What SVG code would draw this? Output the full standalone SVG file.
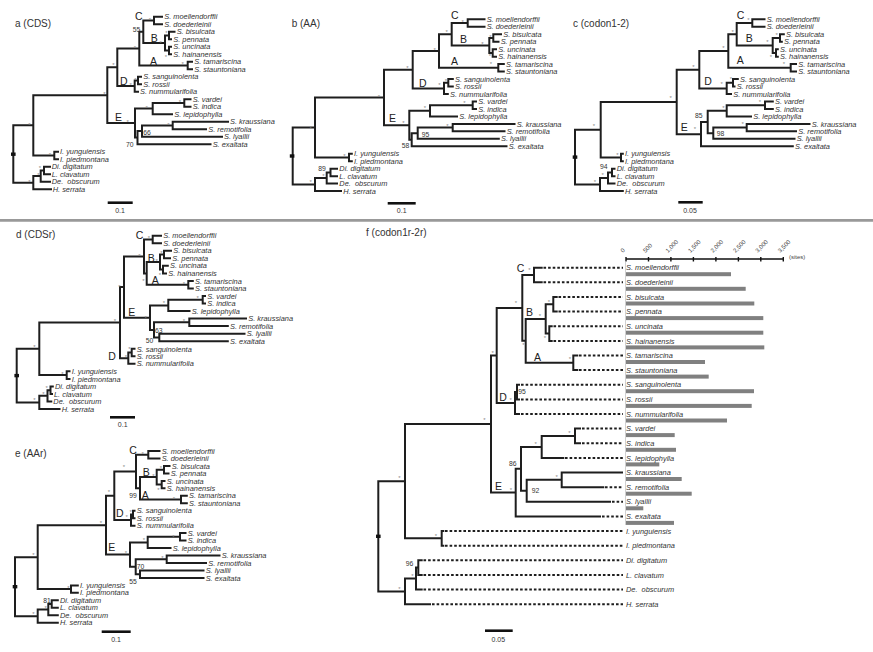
<svg xmlns="http://www.w3.org/2000/svg" width="873" height="652" viewBox="0 0 873 652">
<style>
.br{fill:none;stroke:#1e1e1e;stroke-width:2;stroke-linecap:square}
.dt{fill:none;stroke:#1e1e1e;stroke-width:2;stroke-dasharray:2.6 2}
.sb{fill:none;stroke:#111;stroke-width:2.6}
.t{font-family:"Liberation Sans",Arial,sans-serif;font-style:italic;font-size:7.4px;fill:#333}
.ti{font-family:"Liberation Sans",Arial,sans-serif;font-size:10px;fill:#333}
.cl{font-family:"Liberation Sans",Arial,sans-serif;font-size:10.5px;fill:#222}
.s{font-family:"Liberation Sans",Arial,sans-serif;font-size:6px;fill:#888;text-anchor:middle}
.n{font-family:"Liberation Sans",Arial,sans-serif;font-size:6.8px;fill:#333}
.sc{font-family:"Liberation Sans",Arial,sans-serif;font-size:7px;fill:#333;text-anchor:middle}
.ax{font-family:"Liberation Sans",Arial,sans-serif;font-size:6px;fill:#444}
.bar{fill:#808080}
</style>
<rect width="873" height="652" fill="#fff"/>
<line x1="0" y1="220.3" x2="873" y2="220.3" stroke="#999" stroke-width="2.8"/>

<!-- Panel a -->
<g id="panel-a">
<text class="ti" x="15" y="27">a (CDS)</text>
<g id="a-connectors">
<path class="br" d="M13.3 125.3V182.65M13.3 125.3H33.3M33.3 95.2V155.45M33.3 95.2H107.3M107.3 67.3V123.1M107.3 67.3H117.3M117.3 48.6V86.1M117.3 48.6H139.3M139.3 31.7V65.45M139.3 31.7H143.3M143.3 20.45V42.95M143.3 20.45H154M154 16.7V24.2M154 16.7H162M154 24.2H162M143.3 42.95H165M165 35.45V50.45M165 35.45H169M169 31.7V39.2M169 31.7H174.5M169 39.2H171M165 50.45H169M169 46.7V54.2M169 46.7H171M169 54.2H171M139.3 65.45H187.7M187.7 61.7V69.2M187.7 61.7H192M187.7 69.2H192M117.3 86.1H134.7M134.7 80.45V91.7M134.7 91.7H138M134.7 80.45H138M138 76.7V84.2M138 76.7H141M138 84.2H141M107.3 123.1H135M135 108.6V137.6M135 108.6H152.7M152.7 102.95V114.2M152.7 114.2H172M152.7 102.95H184.3M184.3 99.2V106.7M184.3 99.2H190.5M184.3 106.7H190.5M135 137.6H137.5M137.5 131.1V144.2M137.5 144.2H210.5M137.5 131.1H142M142 125.45V136.7M142 136.7H222M142 125.45H172.7M172.7 121.7V129.2M172.7 121.7H228M172.7 129.2H206M33.3 155.45H54.3M54.3 151.7V159.2M54.3 151.7H58M54.3 159.2H58M13.3 182.65H33.3M33.3 176.1V189.2M33.3 189.2H51M33.3 176.1H40.7M40.7 170.45V181.7M40.7 181.7H50M40.7 170.45H44M44 166.7V174.2M44 166.7H50M44 174.2H50"/>
<rect x="11" y="152.5" width="4.6" height="3.4" fill="#111"/>
<path class="sb" d="M107.7 202.7H132.7"/>
</g>
<text class="sc" x="120" y="212.5">0.1</text>
<g id="a-clades"><text class="cl" x="135" y="20">C</text><text class="cl" x="150.7" y="41.7">B</text><text class="cl" x="150" y="65">A</text><text class="cl" x="120" y="85">D</text><text class="cl" x="115" y="120.7">E</text></g>
<g id="a-support"><text class="n" x="132.7" y="31.8">55</text><text class="n" x="126" y="147.3">70</text><text class="n" x="143.3" y="135.3">66</text>
<text class="s" x="29.3" y="126.5">*</text><text class="s" x="104.3" y="95.5">*</text><text class="s" x="113.3" y="66.5">*</text><text class="s" x="135" y="49.5">*</text><text class="s" x="150" y="21.8">*</text><text class="s" x="160.7" y="44.5">*</text><text class="s" x="166.5" y="34.5">*</text><text class="s" x="166" y="58.5">*</text><text class="s" x="182.7" y="66.2">*</text><text class="s" x="130.7" y="86.8">*</text><text class="s" x="135.5" y="81.8">*</text><text class="s" x="127.7" y="124.2">*</text><text class="s" x="146.7" y="109.5">*</text><text class="s" x="180" y="104.2">*</text><text class="s" x="168.3" y="126.8">*</text><text class="s" x="50" y="156.8">*</text><text class="s" x="29.3" y="183.5">*</text><text class="s" x="38.3" y="176.8">*</text><text class="s" x="40" y="170.2">*</text></g>
<g id="a1"><text class="t" x="164.3" y="19.3">S. moellendorffii</text></g>
<g id="a2"><text class="t" x="164.3" y="26.8">S. doederleinii</text></g>
<g id="a3"><text class="t" x="176.7" y="34.3">S. bisulcata</text></g>
<g id="a4"><text class="t" x="173.3" y="41.8">S. pennata</text></g>
<g id="a5"><text class="t" x="173.3" y="49.3">S. uncinata</text></g>
<g id="a6"><text class="t" x="173.3" y="56.8">S. hainanensis</text></g>
<g id="a7"><text class="t" x="194.3" y="64.3">S. tamariscina</text></g>
<g id="a8"><text class="t" x="194.3" y="71.8">S. stauntoniana</text></g>
<g id="a9"><text class="t" x="143.3" y="79.3">S. sanguinolenta</text></g>
<g id="a10"><text class="t" x="143.3" y="86.8">S. rossii</text></g>
<g id="a11"><text class="t" x="140" y="94.3">S. nummularifolia</text></g>
<g id="a12"><text class="t" x="192.7" y="101.8">S. vardei</text></g>
<g id="a13"><text class="t" x="192.7" y="109.3">S. indica</text></g>
<g id="a14"><text class="t" x="174.3" y="116.8">S. lepidophylla</text></g>
<g id="a15"><text class="t" x="230" y="124.3">S. kraussiana</text></g>
<g id="a16"><text class="t" x="208.3" y="131.8">S. remotifolia</text></g>
<g id="a17"><text class="t" x="224" y="139.3">S. lyallii</text></g>
<g id="a18"><text class="t" x="212.7" y="146.8">S. exaltata</text></g>
<g id="a19"><text class="t" x="60" y="154.3">I. yunguiensis</text></g>
<g id="a20"><text class="t" x="60" y="161.8">I. piedmontana</text></g>
<g id="a21"><text class="t" x="51.7" y="169.3">Di. digitatum</text></g>
<g id="a22"><text class="t" x="51.7" y="176.8">L. clavatum</text></g>
<g id="a23"><text class="t" x="51.7" y="184.3">De.&#160; obscurum</text></g>
<g id="a24"><text class="t" x="52.7" y="191.8">H. serrata</text></g>
</g>

<!-- Panel b -->
<g id="panel-b">
<text class="ti" x="291.7" y="27">b (AA)</text>
<g id="b-connectors">
<path class="br" d="M292.7 127.5V184.6M292.7 127.5H315M315 97.5V157.5M315 97.5H384M384 69.7V125.3M384 69.7H412.7M412.7 51.05V88.4M412.7 51.05H439M439 34.25V67.85M439 34.25H451.7M451.7 23.05V45.45M451.7 23.05H467.7M467.7 19.3V26.8M467.7 19.3H484.5M467.7 26.8H484.5M451.7 45.45H489.3M489.3 37.95V52.95M489.3 37.95H493.3M493.3 34.2V41.7M493.3 34.2H501M493.3 41.7H498.5M489.3 52.95H492.7M492.7 49.2V56.7M492.7 49.2H496M492.7 56.7H496M439 67.85H498.3M498.3 64.1V71.6M498.3 64.1H503.8M498.3 71.6H503.8M412.7 88.4H444M444 82.8V94M444 94H447.8M444 82.8H448.3M448.3 79.1V86.5M448.3 79.1H452.8M448.3 86.5H452.8M384 125.3H409.3M409.3 110.8V139.75M409.3 110.8H430M430 105.2V116.4M430 116.4H457M430 105.2H472.7M472.7 101.5V108.9M472.7 101.5H476M472.7 108.9H476M409.3 139.75H411.7M411.7 133.2V146.3M411.7 146.3H506.5M411.7 133.2H417.7M417.7 127.6V138.8M417.7 138.8H498.8M417.7 127.6H452.7M452.7 123.9V131.35M452.7 123.9H514.5M452.7 131.35H504.5M315 157.5H349M349 153.8V161.2M349 153.8H351.8M349 161.2H351.8M292.7 184.6H315M315 178.05V191.1M315 191.1H341M315 178.05H326.7M326.7 172.45V183.6M326.7 183.6H337M326.7 172.45H330.5M330.5 168.7V176.2M330.5 168.7H337M330.5 176.2H337"/>
<rect x="289.8" y="154.3" width="4.6" height="3.4" fill="#111"/>
<path class="sb" d="M387.7 203.3H415.7"/>
</g>
<text class="sc" x="401.7" y="212.5">0.1</text>
<g id="b-clades"><text class="cl" x="451" y="19.3">C</text><text class="cl" x="460" y="42.7">B</text><text class="cl" x="451" y="65">A</text><text class="cl" x="419" y="87.3">D</text><text class="cl" x="389" y="121.7">E</text></g>
<g id="b-support"><text class="n" x="421.7" y="136.5">95</text><text class="n" x="401.7" y="147.7">58</text><text class="n" x="318.3" y="170.7">89</text>
<text class="s" x="310.7" y="129.5">*</text><text class="s" x="379" y="98.5">*</text><text class="s" x="407.3" y="70.2">*</text><text class="s" x="434.7" y="51.8">*</text><text class="s" x="446.7" y="34.2">*</text><text class="s" x="462.7" y="24.2">*</text><text class="s" x="482.3" y="46.2">*</text><text class="s" x="490.5" y="38.5">*</text><text class="s" x="490" y="58">*</text><text class="s" x="491" y="66.2">*</text><text class="s" x="439.3" y="86.8">*</text><text class="s" x="446" y="83">*</text><text class="s" x="403.3" y="125.2">*</text><text class="s" x="425" y="110.2">*</text><text class="s" x="464.3" y="104.5">*</text><text class="s" x="447.3" y="127.5">*</text><text class="s" x="344.3" y="157.5">*</text><text class="s" x="310.7" y="183.5">*</text><text class="s" x="323.3" y="177.5">*</text></g>
<g id="b1"><text class="t" x="486.7" y="21.9">S. moellendorffii</text></g>
<g id="b2"><text class="t" x="486.7" y="29.4">S. doederleinii</text></g>
<g id="b3"><text class="t" x="503.3" y="36.8">S. bisulcata</text></g>
<g id="b4"><text class="t" x="500.7" y="44.3">S. pennata</text></g>
<g id="b5"><text class="t" x="498.3" y="51.8">S. uncinata</text></g>
<g id="b6"><text class="t" x="498.3" y="59.3">S. hainanensis</text></g>
<g id="b7"><text class="t" x="506" y="66.7">S. tamariscina</text></g>
<g id="b8"><text class="t" x="506" y="74.2">S. stauntoniana</text></g>
<g id="b9"><text class="t" x="455" y="81.7">S. sanguinolenta</text></g>
<g id="b10"><text class="t" x="455" y="89.1">S. rossii</text></g>
<g id="b11"><text class="t" x="450" y="96.6">S. nummularifolia</text></g>
<g id="b12"><text class="t" x="478.3" y="104.1">S. vardei</text></g>
<g id="b13"><text class="t" x="478.3" y="111.5">S. indica</text></g>
<g id="b14"><text class="t" x="459.3" y="119">S. lepidophylla</text></g>
<g id="b15"><text class="t" x="516.7" y="126.5">S. kraussiana</text></g>
<g id="b16"><text class="t" x="506.7" y="134">S. remotifolia</text></g>
<g id="b17"><text class="t" x="501" y="141.4">S. lyallii</text></g>
<g id="b18"><text class="t" x="508.7" y="148.9">S. exaltata</text></g>
<g id="b19"><text class="t" x="354" y="156.4">I. yunguiensis</text></g>
<g id="b20"><text class="t" x="354" y="163.8">I. piedmontana</text></g>
<g id="b21"><text class="t" x="339.3" y="171.3">Di. digitatum</text></g>
<g id="b22"><text class="t" x="339.3" y="178.8">L. clavatum</text></g>
<g id="b23"><text class="t" x="339.3" y="186.2">De.&#160; obscurum</text></g>
<g id="b24"><text class="t" x="343.3" y="193.7">H. serrata</text></g>
</g>

<!-- Panel c -->
<g id="panel-c">
<text class="ti" x="573" y="27">c (codon1-2)</text>
<g id="c-connectors">
<path class="br" d="M575 129.7V184.6M575 129.7H600.7M600.7 101.9V157.5M600.7 101.9H676.7M676.7 69.7V134.15M676.7 69.7H699.3M699.3 51.05V88.4M699.3 51.05H728.3M728.3 34.25V67.85M728.3 34.25H736.7M736.7 23.05V45.45M736.7 23.05H752.3M752.3 19.3V26.8M752.3 19.3H764.5M752.3 26.8H764.5M736.7 45.45H772.7M772.7 37.95V52.95M772.7 37.95H780M780 34.2V41.7M780 34.2H783.8M780 41.7H781.8M772.7 52.95H776M776 49.2V56.7M776 49.2H777.8M776 56.7H777.8M728.3 67.85H790.7M790.7 64.1V71.6M790.7 64.1H796M790.7 71.6H796M699.3 88.4H726.7M726.7 82.8V94M726.7 94H731M726.7 82.8H733M733 79.1V86.5M733 79.1H737.8M733 86.5H734.5M676.7 134.15H701M701 122V146.3M701 146.3H792.8M701 122H707.7M707.7 110.8V133.2M707.7 110.8H726.7M726.7 105.2V116.4M726.7 116.4H751M726.7 105.2H765M765 101.5V108.9M765 101.5H772.8M765 108.9H772.8M707.7 133.2H713.3M713.3 127.6V138.8M713.3 138.8H794.5M713.3 127.6H746.7M746.7 123.9V131.35M746.7 123.9H809.5M746.7 131.35H796M600.7 157.5H621M621 153.8V161.2M621 153.8H622.8M621 161.2H622.8M575 184.6H600M600 178.05V191.1M600 191.1H622.8M600 178.05H608M608 172.45V183.6M608 183.6H614.5M608 172.45H612M612 168.7V176.2M612 168.7H614.5M612 176.2H614.5"/>
<rect x="572.7" y="155.4" width="4.6" height="3.4" fill="#111"/>
<path class="sb" d="M678.3 202.3H702.7"/>
</g>
<text class="sc" x="690" y="212.5">0.05</text>
<g id="c-clades"><text class="cl" x="736.7" y="19.3">C</text><text class="cl" x="745.7" y="42">B</text><text class="cl" x="736.7" y="64.3">A</text><text class="cl" x="704.3" y="85">D</text><text class="cl" x="680.7" y="131">E</text></g>
<g id="c-support"><text class="n" x="695" y="118.3">85</text><text class="n" x="716.7" y="136">98</text><text class="n" x="600" y="169.3">94</text>
<text class="s" x="594" y="127.5">*</text><text class="s" x="670.7" y="100.2">*</text><text class="s" x="693.3" y="68.8">*</text><text class="s" x="723.3" y="50.2">*</text><text class="s" x="732.7" y="34.2">*</text><text class="s" x="748.3" y="21.8">*</text><text class="s" x="767.3" y="44.2">*</text><text class="s" x="776.7" y="36.8">*</text><text class="s" x="771" y="58.5">*</text><text class="s" x="784" y="65.5">*</text><text class="s" x="721.7" y="86.2">*</text><text class="s" x="731" y="81.2">*</text><text class="s" x="695" y="131.2">*</text><text class="s" x="723.3" y="109.5">*</text><text class="s" x="760" y="103.5">*</text><text class="s" x="742.7" y="126.2">*</text><text class="s" x="617.3" y="156.8">*</text><text class="s" x="595" y="183.5">*</text><text class="s" x="602.7" y="176.8">*</text></g>
<g id="c1"><text class="t" x="766.7" y="21.9">S. moellendorffii</text></g>
<g id="c2"><text class="t" x="766.7" y="29.4">S. doederleinii</text></g>
<g id="c3"><text class="t" x="786" y="36.8">S. bisulcata</text></g>
<g id="c4"><text class="t" x="784" y="44.3">S. pennata</text></g>
<g id="c5"><text class="t" x="780" y="51.8">S. uncinata</text></g>
<g id="c6"><text class="t" x="780" y="59.3">S. hainanensis</text></g>
<g id="c7"><text class="t" x="798.3" y="66.7">S. tamariscina</text></g>
<g id="c8"><text class="t" x="798.3" y="74.2">S. stauntoniana</text></g>
<g id="c9"><text class="t" x="740" y="81.7">S. sanguinolenta</text></g>
<g id="c10"><text class="t" x="736.7" y="89.1">S. rossii</text></g>
<g id="c11"><text class="t" x="733.3" y="96.6">S. nummularifolia</text></g>
<g id="c12"><text class="t" x="775" y="104.1">S. vardei</text></g>
<g id="c13"><text class="t" x="775" y="111.5">S. indica</text></g>
<g id="c14"><text class="t" x="753.3" y="119">S. lepidophylla</text></g>
<g id="c15"><text class="t" x="811.7" y="126.5">S. kraussiana</text></g>
<g id="c16"><text class="t" x="798.3" y="134">S. remotifolia</text></g>
<g id="c17"><text class="t" x="796.7" y="141.4">S. lyallii</text></g>
<g id="c18"><text class="t" x="795" y="148.9">S. exaltata</text></g>
<g id="c19"><text class="t" x="625" y="156.4">I. yunguiensis</text></g>
<g id="c20"><text class="t" x="625" y="163.8">I. piedmontana</text></g>
<g id="c21"><text class="t" x="616.7" y="171.3">Di. digitatum</text></g>
<g id="c22"><text class="t" x="616.7" y="178.8">L. clavatum</text></g>
<g id="c23"><text class="t" x="616.7" y="186.2">De.&#160; obscurum</text></g>
<g id="c24"><text class="t" x="625" y="193.7">H. serrata</text></g>
</g>

<!-- Panel d -->
<g id="panel-d">
<text class="ti" x="16" y="237.5">d (CDSr)</text>
<g id="d-connectors">
<path class="br" d="M16.7 348.85V402.4M16.7 348.85H39.3M39.3 322.6V375.1M39.3 322.6H120M120 287V358.15M120 287H124M124 256.4V317.65M124 256.4H144M144 239.45V273.4M144 239.45H152.7M152.7 235.7V243.2M152.7 235.7H161M152.7 243.2H161M144 273.4H146.7M146.7 262.1V284.65M146.7 262.1H160M160 254.55V269.6M160 254.55H164M164 250.8V258.3M164 250.8H171M164 258.3H170M160 269.6H163M163 265.8V273.4M163 265.8H167.8M163 273.4H166M146.7 284.65H188.3M188.3 280.9V288.4M188.3 280.9H192.8M188.3 288.4H192.8M124 317.65H150M150 305.4V329.9M150 305.4H168.3M168.3 299.75V311.1M168.3 311.1H189.5M168.3 299.75H202.7M202.7 296V303.5M202.7 296H205M202.7 303.5H205M150 329.9H154M154 322.35V337.45M154 322.35H189.3M189.3 318.6V326.1M189.3 318.6H246M189.3 326.1H227.8M154 337.45H159.3M159.3 333.7V341.2M159.3 333.7H244.5M159.3 341.2H227.8M120 358.15H128.3M128.3 352.5V363.8M128.3 363.8H134.5M128.3 352.5H131.7M131.7 348.7V356.3M131.7 348.7H134.5M131.7 356.3H134.5M39.3 375.1H66.7M66.7 371.3V378.9M66.7 371.3H69.5M66.7 378.9H69.5M16.7 402.4H39.3M39.3 395.8V409M39.3 409H59.5M39.3 395.8H47.5M47.5 390.15V401.5M47.5 401.5H51.3M47.5 390.15H50.5M50.5 386.4V393.9M50.5 386.4H52.8M50.5 393.9H52"/>
<rect x="14.4" y="373.9" width="4.6" height="3.4" fill="#111"/>
<path class="sb" d="M110 417.3H135"/>
</g>
<text class="sc" x="122.7" y="426.5">0.1</text>
<g id="d-clades"><text class="cl" x="135.7" y="239">C</text><text class="cl" x="147.8" y="262">B</text><text class="cl" x="151.7" y="284.3">A</text><text class="cl" x="128.3" y="316">E</text><text class="cl" x="108.3" y="360">D</text></g>
<g id="d-support"><text class="n" x="155" y="332.7">63</text><text class="n" x="145.8" y="343.2" font-size="6.4">50</text>
<text class="s" x="34.3" y="348.5">*</text><text class="s" x="115" y="322.5">*</text><text class="s" x="119.3" y="289.2">*</text><text class="s" x="139.3" y="257.5">*</text><text class="s" x="149" y="240.2">*</text><text class="s" x="156.7" y="262.8">*</text><text class="s" x="161.5" y="254.5">*</text><text class="s" x="160" y="276.8">*</text><text class="s" x="143.3" y="282.8">*</text><text class="s" x="184" y="285.8">*</text><text class="s" x="145.7" y="319.5">*</text><text class="s" x="164" y="305.2">*</text><text class="s" x="197.7" y="300.2">*</text><text class="s" x="184" y="322.8">*</text><text class="s" x="126" y="358.5">*</text><text class="s" x="129.3" y="351.2">*</text><text class="s" x="62.3" y="375.8">*</text><text class="s" x="34.3" y="401.8">*</text><text class="s" x="43.3" y="395.8">*</text><text class="s" x="46.7" y="389.5">*</text></g>
<g id="d1"><text class="t" x="163.3" y="238.3">S. moellendorffii</text></g>
<g id="d2"><text class="t" x="163.3" y="245.8">S. doederleinii</text></g>
<g id="d3"><text class="t" x="173.3" y="253.4">S. bisulcata</text></g>
<g id="d4"><text class="t" x="172.3" y="260.9">S. pennata</text></g>
<g id="d5"><text class="t" x="170" y="268.4">S. uncinata</text></g>
<g id="d6"><text class="t" x="168.3" y="276">S. hainanensis</text></g>
<g id="d7"><text class="t" x="195" y="283.5">S. tamariscina</text></g>
<g id="d8"><text class="t" x="195" y="291">S. stauntoniana</text></g>
<g id="d9"><text class="t" x="207.3" y="298.6">S. vardei</text></g>
<g id="d10"><text class="t" x="207.3" y="306.1">S. indica</text></g>
<g id="d11"><text class="t" x="191.7" y="313.7">S. lepidophylla</text></g>
<g id="d12"><text class="t" x="248.3" y="321.2">S. kraussiana</text></g>
<g id="d13"><text class="t" x="230" y="328.7">S. remotifolia</text></g>
<g id="d14"><text class="t" x="246.7" y="336.3">S. lyallii</text></g>
<g id="d15"><text class="t" x="230" y="343.8">S. exaltata</text></g>
<g id="d16"><text class="t" x="136.7" y="351.6">S. sanguinolenta</text></g>
<g id="d17"><text class="t" x="136.7" y="358.9">S. rossii</text></g>
<g id="d18"><text class="t" x="136.7" y="366.4">S. nummularifolia</text></g>
<g id="d19"><text class="t" x="71.7" y="373.9">I. yunguiensis</text></g>
<g id="d20"><text class="t" x="71.7" y="381.5">I. piedmontana</text></g>
<g id="d21"><text class="t" x="55" y="389">Di. digitatum</text></g>
<g id="d22"><text class="t" x="54" y="396.5">L. clavatum</text></g>
<g id="d23"><text class="t" x="53.3" y="404.1">De.&#160; obscurum</text></g>
<g id="d24"><text class="t" x="61.7" y="411.6">H. serrata</text></g>
</g>

<!-- Panel e -->
<g id="panel-e">
<text class="ti" x="15" y="457">e (AAr)</text>
<g id="e-connectors">
<path class="br" d="M15 557.15V616.15M15 557.15H37.7M37.7 525.2V589.1M37.7 525.2H106M106 495.8V554.55M106 495.8H114.3M114.3 471.5V520.1M114.3 471.5H136M136 454.75V488.3M136 454.75H148.3M148.3 451V458.5M148.3 451H159.5M148.3 458.5H159.5M136 488.3H140M140 477.1V499.55M140 477.1H156.7M156.7 469.65V484.6M156.7 469.65H164M164 465.9V473.4M164 465.9H169.5M164 473.4H168.5M156.7 484.6H161.7M161.7 480.9V488.3M161.7 480.9H164.5M161.7 488.3H164.5M140 499.55H181M181 495.8V503.3M181 495.8H186.8M181 503.3H186.8M114.3 520.1H131M131 514.45V525.7M131 525.7H134.5M131 514.45H133M133 510.7V518.2M133 510.7H134.5M133 518.2H134.5M106 554.55H130M130 542.4V566.7M130 542.4H147.7M147.7 536.85V548M147.7 548H170.5M147.7 536.85H180M180 533.1V540.6M180 533.1H185.5M180 540.6H185.5M130 566.7H135.7M135.7 559.25V574.15M135.7 559.25H166.7M166.7 555.5V563M166.7 555.5H219.5M166.7 563H206M135.7 574.15H140M140 570.4V577.9M140 570.4H203.5M140 577.9H203.5M37.7 589.1H71M71 585.4V592.8M71 585.4H77.8M71 592.8H77.8M15 616.15H37.7M37.7 609.6V622.7M37.7 622.7H57.8M37.7 609.6H48.3M48.3 604.05V615.2M48.3 615.2H57.8M48.3 604.05H51.7M51.7 600.3V607.8M51.7 600.3H57.8M51.7 607.8H57.8"/>
<rect x="12.7" y="585" width="4.6" height="3.4" fill="#111"/>
<path class="sb" d="M101.7 631.7H130.7"/>
</g>
<text class="sc" x="116" y="641.5">0.1</text>
<g id="e-clades"><text class="cl" x="129.3" y="454">C</text><text class="cl" x="142.7" y="475.7">B</text><text class="cl" x="141.7" y="499.3">A</text><text class="cl" x="116" y="517.3">D</text><text class="cl" x="108.3" y="551">E</text></g>
<g id="e-support"><text class="n" x="129.3" y="497.7">99</text><text class="n" x="136.7" y="569.3">70</text><text class="n" x="129.3" y="584.3">55</text><text class="n" x="43.3" y="602.7">81</text>
<text class="s" x="33.3" y="556.8">*</text><text class="s" x="101" y="525.2">*</text><text class="s" x="109" y="493.5">*</text><text class="s" x="124" y="468.5">*</text><text class="s" x="142.7" y="455.8">*</text><text class="s" x="153.3" y="477.8">*</text><text class="s" x="161" y="470.2">*</text><text class="s" x="158.3" y="491.8">*</text><text class="s" x="174" y="500.8">*</text><text class="s" x="126.7" y="518.5">*</text><text class="s" x="130.7" y="514.2">*</text><text class="s" x="126" y="555.2">*</text><text class="s" x="144" y="541.8">*</text><text class="s" x="173.3" y="538.5">*</text><text class="s" x="162.3" y="559.5">*</text><text class="s" x="68.3" y="589.5">*</text><text class="s" x="33.3" y="615.8">*</text><text class="s" x="45.7" y="610.2">*</text></g>
<g id="e1"><text class="t" x="161.7" y="453.6">S. moellendorffii</text></g>
<g id="e2"><text class="t" x="161.7" y="461.1">S. doederleinii</text></g>
<g id="e3"><text class="t" x="171.7" y="468.5">S. bisulcata</text></g>
<g id="e4"><text class="t" x="170.7" y="476">S. pennata</text></g>
<g id="e5"><text class="t" x="166.7" y="483.5">S. uncinata</text></g>
<g id="e6"><text class="t" x="166.7" y="490.9">S. hainanensis</text></g>
<g id="e7"><text class="t" x="189" y="498.4">S. tamariscina</text></g>
<g id="e8"><text class="t" x="189" y="505.9">S. stauntoniana</text></g>
<g id="e9"><text class="t" x="136.7" y="513.3">S. sanguinolenta</text></g>
<g id="e10"><text class="t" x="136.7" y="520.8">S. rossii</text></g>
<g id="e11"><text class="t" x="136.7" y="528.3">S. nummularifolia</text></g>
<g id="e12"><text class="t" x="187.7" y="535.7">S. vardei</text></g>
<g id="e13"><text class="t" x="187.7" y="543.2">S. indica</text></g>
<g id="e14"><text class="t" x="172.7" y="550.6">S. lepidophylla</text></g>
<g id="e15"><text class="t" x="221.7" y="558.1">S. kraussiana</text></g>
<g id="e16"><text class="t" x="208.3" y="565.6">S. remotifolia</text></g>
<g id="e17"><text class="t" x="205.7" y="573">S. lyallii</text></g>
<g id="e18"><text class="t" x="205.7" y="580.5">S. exaltata</text></g>
<g id="e19"><text class="t" x="80" y="588">I. yunguiensis</text></g>
<g id="e20"><text class="t" x="80" y="595.4">I. piedmontana</text></g>
<g id="e21"><text class="t" x="60" y="602.9">Di. digitatum</text></g>
<g id="e22"><text class="t" x="60" y="610.4">L. clavatum</text></g>
<g id="e23"><text class="t" x="60" y="617.8">De.&#160; obscurum</text></g>
<g id="e24"><text class="t" x="60" y="625.3">H. serrata</text></g>
</g>

<!-- Panel f -->
<g id="panel-f">
<text class="ti" x="366" y="235.5" font-size="9.6">f (codon1r-2r)</text>
<g id="f-connectors">
<path class="br" d="M378.3 481.2V591.4M378.3 481.2H405M405 424V538.35M405 424H491M491 355.45V492.6M491 355.45H496.7M496.7 307.9V403M496.7 307.9H522.3M522.3 275V340.85M522.3 275H534M534 267.7V282.3M534 267.7H541.7M534 282.3H541.7M522.3 340.85H525.7M525.7 318.9V362.8M525.7 318.9H545.7M545.7 304.3V333.55M545.7 304.3H553.3M553.3 297V311.6M553.3 297H556.7M553.3 311.6H556.7M545.7 333.55H549.3M549.3 326.2V340.9M549.3 326.2H551.7M549.3 340.9H551.7M525.7 362.8H573.3M573.3 355.5V370.1M573.3 355.5H577.3M573.3 370.1H577.3M496.7 403H515M515 392.05V414M515 414H519M515 392.05H517M517 384.7V399.4M517 384.7H519M517 399.4H519M491 492.6H515.7M515.7 468.85V516.4M515.7 516.4H600M515.7 468.85H521M521 446.9V490.8M521 446.9H541.7M541.7 435.95V457.9M541.7 457.9H563.3M541.7 435.95H575M575 428.6V443.3M575 428.6H580M575 443.3H580M521 490.8H526.7M526.7 479.85V501.8M526.7 501.8H610M526.7 479.85H561.7M561.7 472.5V487.2M561.7 472.5H622M561.7 487.2H603.3M405 538.35H441.7M441.7 531V545.7M441.7 531H443.3M441.7 545.7H443.3M378.3 591.4H405M405 578.6V604.2M405 604.2H430M405 578.6H416M416 567.6V589.6M416 589.6H421.7M416 567.6H418.3M418.3 560.3V574.9M418.3 560.3H421.7M418.3 574.9H421.7"/>
<path class="dt" d="M543.5 267.7H623M543.5 282.3H623M558.5 297H623M558.5 311.6H623M553.5 326.2H623M553.5 340.9H623M579 355.5H623M579 370.1H623M521 384.7H623M521 399.4H623M521 414H623M582 428.6H623M582 443.3H623M565 457.9H623M605 487.2H623M612 501.8H623M602 516.4H623M445 531H623M445 545.7H623M423.5 560.3H623M423.5 574.9H623M423.5 589.6H623M432 604.2H623"/>
<rect x="376" y="534.6" width="4.6" height="3.4" fill="#111"/>
<path class="sb" d="M485 630.7H512.7"/>
</g>
<text class="sc" x="498.3" y="641.5">0.05</text>
<g id="f-clades"><text class="cl" x="516.7" y="271.7">C</text><text class="cl" x="526" y="315.7">B</text><text class="cl" x="534" y="361">A</text><text class="cl" x="499.3" y="401">D</text><text class="cl" x="495" y="490">E</text></g>
<g id="f-support"><text class="n" x="518.3" y="394.3">95</text><text class="n" x="509" y="465.7">86</text><text class="n" x="531.7" y="492.7">92</text><text class="n" x="405.7" y="566">96</text>
<text class="s" x="399.3" y="480.2">*</text><text class="s" x="484.3" y="421.8">*</text><text class="s" x="492.7" y="354.5">*</text><text class="s" x="516" y="304.5">*</text><text class="s" x="529.3" y="271.8">*</text><text class="s" x="540" y="317.8">*</text><text class="s" x="549" y="303.5">*</text><text class="s" x="545" y="340.2">*</text><text class="s" x="523.3" y="346.8">*</text><text class="s" x="570" y="361.2">*</text><text class="s" x="510.7" y="401.8">*</text><text class="s" x="511" y="491.8">*</text><text class="s" x="535.7" y="446.2">*</text><text class="s" x="569.3" y="435.2">*</text><text class="s" x="556.7" y="478.5">*</text><text class="s" x="436" y="537.8">*</text><text class="s" x="399.3" y="591.2">*</text><text class="s" x="412.3" y="577.8">*</text></g>
<g id="f-axis">
<line x1="625.5" y1="262" x2="625.5" y2="525" stroke="#d0d0d0" stroke-width="1"/>
<path d="M626 259H783.3M626 257V261.5M648.5 257V261.5M670.9 257V261.5M693.4 257V261.5M715.9 257V261.5M738.4 257V261.5M760.8 257V261.5M783.3 257V261.5" fill="none" stroke="#111" stroke-width="1.4"/>
<text class="ax" transform="translate(623,253) rotate(-45)">0</text>
<text class="ax" transform="translate(645.5,253) rotate(-45)">500</text>
<text class="ax" transform="translate(667.9,253) rotate(-45)">1,000</text>
<text class="ax" transform="translate(690.4,253) rotate(-45)">1,500</text>
<text class="ax" transform="translate(712.9,253) rotate(-45)">2,000</text>
<text class="ax" transform="translate(735.4,253) rotate(-45)">2,500</text>
<text class="ax" transform="translate(757.8,253) rotate(-45)">3,000</text>
<text class="ax" transform="translate(780.3,253) rotate(-45)">3,500</text>
<text class="ax" x="789" y="258.5" font-size="7.5">(sites)</text>
</g>
<g id="f-bars">
<rect class="bar" x="626" y="272.2" width="105" height="4"/>
<rect class="bar" x="626" y="286.8" width="119.7" height="4"/>
<rect class="bar" x="626" y="301.5" width="128.3" height="4"/>
<rect class="bar" x="626" y="316.1" width="137.3" height="4"/>
<rect class="bar" x="626" y="330.7" width="137.3" height="4"/>
<rect class="bar" x="626" y="345.4" width="138.3" height="4"/>
<rect class="bar" x="626" y="360" width="79" height="4"/>
<rect class="bar" x="626" y="374.6" width="82.7" height="4"/>
<rect class="bar" x="626" y="389.2" width="128" height="4"/>
<rect class="bar" x="626" y="403.9" width="125.7" height="4"/>
<rect class="bar" x="626" y="418.5" width="101" height="4"/>
<rect class="bar" x="626" y="433.1" width="48.7" height="4"/>
<rect class="bar" x="626" y="447.8" width="50" height="4"/>
<rect class="bar" x="626" y="462.4" width="33.3" height="4"/>
<rect class="bar" x="626" y="477" width="55.7" height="4"/>
<rect class="bar" x="626" y="491.7" width="65.7" height="4"/>
<rect class="bar" x="626" y="506.3" width="17.3" height="4"/>
<rect class="bar" x="626" y="520.9" width="48" height="4"/>
</g>
<g id="f1"><text class="t" x="626" y="270.3">S. moellendorffii</text></g>
<g id="f2"><text class="t" x="626" y="284.9">S. doederleinii</text></g>
<g id="f3"><text class="t" x="626" y="299.6">S. bisulcata</text></g>
<g id="f4"><text class="t" x="626" y="314.2">S. pennata</text></g>
<g id="f5"><text class="t" x="626" y="328.8">S. uncinata</text></g>
<g id="f6"><text class="t" x="626" y="343.5">S. hainanensis</text></g>
<g id="f7"><text class="t" x="626" y="358.1">S. tamariscina</text></g>
<g id="f8"><text class="t" x="626" y="372.7">S. stauntoniana</text></g>
<g id="f9"><text class="t" x="626" y="387.3">S. sanguinolenta</text></g>
<g id="f10"><text class="t" x="626" y="402">S. rossii</text></g>
<g id="f11"><text class="t" x="626" y="416.6">S. nummularifolia</text></g>
<g id="f12"><text class="t" x="626" y="431.2">S. vardei</text></g>
<g id="f13"><text class="t" x="626" y="445.9">S. indica</text></g>
<g id="f14"><text class="t" x="626" y="460.5">S. lepidophylla</text></g>
<g id="f15"><text class="t" x="626" y="475.1">S. kraussiana</text></g>
<g id="f16"><text class="t" x="626" y="489.8">S. remotifolia</text></g>
<g id="f17"><text class="t" x="626" y="504.4">S. lyallii</text></g>
<g id="f18"><text class="t" x="626" y="519">S. exaltata</text></g>
<g id="f19"><text class="t" x="626" y="533.6">I. yunguiensis</text></g>
<g id="f20"><text class="t" x="626" y="548.3">I. piedmontana</text></g>
<g id="f21"><text class="t" x="626" y="562.9">Di. digitatum</text></g>
<g id="f22"><text class="t" x="626" y="577.5">L. clavatum</text></g>
<g id="f23"><text class="t" x="626" y="592.2">De.&#160; obscurum</text></g>
<g id="f24"><text class="t" x="626" y="606.8">H. serrata</text></g>
</g>
</svg>
